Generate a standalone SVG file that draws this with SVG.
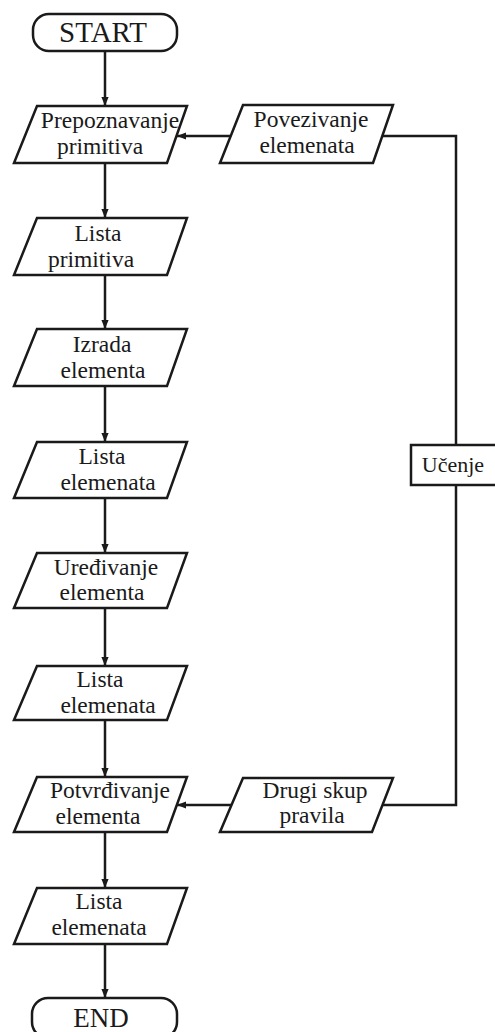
<svg xmlns="http://www.w3.org/2000/svg" width="495" height="1032" viewBox="0 0 495 1032">
<style>
.box{fill:#fff;stroke:#1a1a1a;stroke-width:2.5;stroke-linejoin:miter}
.t{font-family:"Liberation Serif","Times New Roman",serif;font-size:23.5px;fill:#1a1a1a;text-anchor:middle}
.term{font-family:"Liberation Serif","Times New Roman",serif;font-size:29px;fill:#1a1a1a;text-anchor:middle}
.c{fill:none;stroke:#1a1a1a;stroke-width:2.5}
</style>
<defs>
<marker id="ah" viewBox="0 0 10 10" refX="10" refY="5" markerWidth="9" markerHeight="9" markerUnits="userSpaceOnUse" orient="auto">
<path d="M0,1 L10,5 L0,9 Z" fill="#1a1a1a"/>
</marker>
</defs>
<rect width="495" height="1032" fill="#fff"/>
<g id="connectors">
<line class="c" x1="105" y1="51" x2="105" y2="106" marker-end="url(#ah)"/>
<line class="c" x1="105" y1="163" x2="105" y2="218" marker-end="url(#ah)"/>
<line class="c" x1="105" y1="275" x2="105" y2="329" marker-end="url(#ah)"/>
<line class="c" x1="105" y1="386" x2="105" y2="442" marker-end="url(#ah)"/>
<line class="c" x1="105" y1="498" x2="105" y2="553" marker-end="url(#ah)"/>
<line class="c" x1="105" y1="608" x2="105" y2="666" marker-end="url(#ah)"/>
<line class="c" x1="105" y1="720" x2="105" y2="777" marker-end="url(#ah)"/>
<line class="c" x1="105" y1="832" x2="105" y2="888" marker-end="url(#ah)"/>
<line class="c" x1="105" y1="944" x2="105" y2="998" marker-end="url(#ah)"/>
<line class="c" x1="231" y1="136" x2="177" y2="136" marker-end="url(#ah)"/>
<line class="c" x1="231" y1="805" x2="177" y2="805" marker-end="url(#ah)"/>
<polyline class="c" points="382,136 456,136 456,445"/>
<polyline class="c" points="383,805 456,805 456,485"/>
</g>
<g id="start">
<rect class="box" x="33" y="14" width="144" height="37" rx="16"/>
<text class="term" x="103" y="42">START</text>
</g>
<g id="prepoznavanje">
<polygon class="box" points="37,106 187,106 167,163 14,163"/>
<text class="t" x="110" y="128">Prepoznavanje</text>
<text class="t" x="100" y="154">primitiva</text>
</g>
<g id="povezivanje">
<polygon class="box" points="243,105 393,105 373,163 220,163"/>
<text class="t" x="311" y="127">Povezivanje</text>
<text class="t" x="307" y="153">elemenata</text>
</g>
<g id="lista-primitiva">
<polygon class="box" points="37,218 187,218 167,275 14,275"/>
<text class="t" x="98" y="241">Lista</text>
<text class="t" x="91" y="267">primitiva</text>
</g>
<g id="izrada">
<polygon class="box" points="37,329 187,329 167,386 14,386"/>
<text class="t" x="102" y="352">Izrada</text>
<text class="t" x="103" y="378">elementa</text>
</g>
<g id="lista-elemenata-1">
<polygon class="box" points="37,442 187,442 167,498 14,498"/>
<text class="t" x="102" y="464">Lista</text>
<text class="t" x="108" y="490">elemenata</text>
</g>
<g id="uredivanje">
<polygon class="box" points="37,553 187,553 167,608 14,608"/>
<text class="t" x="106" y="575">Uređivanje</text>
<text class="t" x="102" y="600">elementa</text>
</g>
<g id="lista-elemenata-2">
<polygon class="box" points="37,666 187,666 167,720 14,720"/>
<text class="t" x="100" y="687">Lista</text>
<text class="t" x="108" y="713">elemenata</text>
</g>
<g id="potvrdivanje">
<polygon class="box" points="37,777 187,777 167,832 14,832"/>
<text class="t" x="110" y="798">Potvrđivanje</text>
<text class="t" x="98" y="824">elementa</text>
</g>
<g id="drugi-skup">
<polygon class="box" points="243,778 393,778 372,832 220,832"/>
<text class="t" x="315" y="798">Drugi skup</text>
<text class="t" x="312" y="823">pravila</text>
</g>
<g id="lista-elemenata-3">
<polygon class="box" points="37,888 187,888 167,944 14,944"/>
<text class="t" x="99" y="909">Lista</text>
<text class="t" x="99" y="935">elemenata</text>
</g>
<g id="ucenje">
<rect class="box" x="411" y="445" width="90" height="40"/>
<text class="t" x="453" y="472" style="font-size:22px">Učenje</text>
</g>
<g id="end">
<rect class="box" x="32" y="998" width="145" height="40" rx="16"/>
<text class="term" x="101" y="1027" style="font-size:27px">END</text>
</g>
</svg>
